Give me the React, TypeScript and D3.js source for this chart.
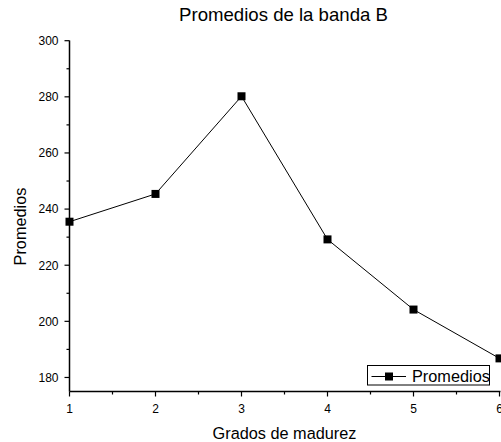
import React from "react";
import * as d3 from "d3";

const grados = [1, 2, 3, 4, 5, 6];
const promedios = [235.5, 245.4, 280.2, 229.2, 204.2, 186.8];
const yTicks = [180, 200, 220, 240, 260, 280, 300];
const xTicks = [1, 2, 3, 4, 5, 6];

const W = 501;
const H = 442;
const left = 69.5;
const right = 499.5;
const top = 40.5;
const bottom = 391.5;

export default function App() {
  const x = d3.scaleLinear().domain([1, 6]).range([left, right]);
  const y = d3.scaleLinear().domain([175, 300]).range([bottom, top + 0.2]);
  const line = d3
    .line<number>()
    .x((_, i) => x(grados[i]))
    .y((d) => y(d));
  const xMinor = d3.range(1.5, 6, 1);
  const yMinor = d3.range(190, 300, 20);
  const font = "'Liberation Sans', Arial, sans-serif";
  return (
    <svg
      width={W}
      height={H}
      style={{ position: "absolute", left: 0, top: 0, background: "#fff" }}
      fontFamily={font}
    >
      <text x={283.5} y={21} textAnchor="middle" fontSize={18.6}>
        Promedios de la banda B
      </text>
      {/* axes */}
      <line x1={left} x2={left} y1={top} y2={bottom} stroke="#000" strokeWidth={1.5} />
      <line x1={left} x2={right + 1} y1={bottom} y2={bottom} stroke="#000" strokeWidth={1.5} />
      {yTicks.map((t) => (
        <g key={"y" + t}>
          <line x1={left - 5} x2={left} y1={y(t)} y2={y(t)} stroke="#000" strokeWidth={1.2} />
          <text x={left - 11} y={y(t) + 4.3} textAnchor="end" fontSize={12}>
            {t}
          </text>
        </g>
      ))}
      {yMinor.map((t) => (
        <line key={"ym" + t} x1={left - 3} x2={left} y1={y(t)} y2={y(t)} stroke="#000" strokeWidth={1.2} />
      ))}
      {xTicks.map((t) => (
        <g key={"x" + t}>
          <line x1={x(t)} x2={x(t)} y1={bottom} y2={bottom + 5} stroke="#000" strokeWidth={1.2} />
          <text x={x(t)} y={412.5} textAnchor="middle" fontSize={12}>
            {t}
          </text>
        </g>
      ))}
      {xMinor.map((t) => (
        <line key={"xm" + t} x1={x(t)} x2={x(t)} y1={bottom} y2={bottom + 3} stroke="#000" strokeWidth={1.2} />
      ))}
      <text x={284.5} y={439} textAnchor="middle" fontSize={16.3}>
        Grados de madurez
      </text>
      <text
        transform={`translate(25.5,226.5) rotate(-90)`}
        textAnchor="middle"
        fontSize={16.3}
      >
        Promedios
      </text>
      {/* series */}
      <path d={line(promedios) || ""} fill="none" stroke="#000" strokeWidth={1} />
      {promedios.map((v, i) => (
        <rect
          key={i}
          x={x(grados[i]) - 4}
          y={y(v) - 4}
          width={8}
          height={8}
          fill="#000"
        />
      ))}
      {/* legend */}
      <g>
        <rect x={367.5} y={365.5} width={122} height={19.5} fill="#fff" stroke="#000" strokeWidth={1} />
        <line x1={371.5} x2={406} y1={376.5} y2={376.5} stroke="#000" strokeWidth={1} />
        <rect x={385} y={372.5} width={8} height={8} fill="#000" />
        <text x={412} y={382} fontSize={16.3}>
          Promedios
        </text>
      </g>
    </svg>
  );
}
